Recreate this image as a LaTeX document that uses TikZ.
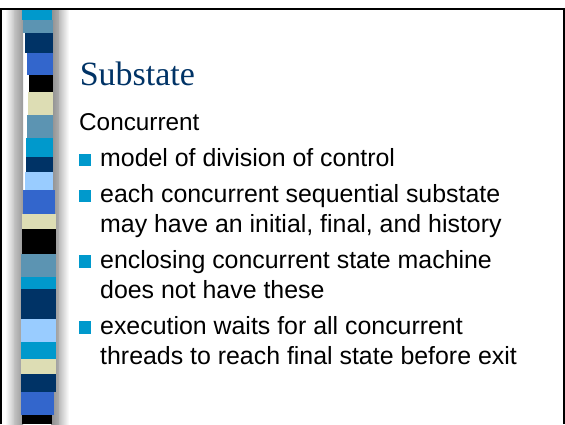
\documentclass[tikz,border=0pt]{standalone}
\usepackage{fontspec}
\setmainfont{Liberation Sans}
\newfontfamily\headfont{Liberation Serif}

\definecolor{stripcyan}{RGB}{0,153,204}
\definecolor{stripsteel}{RGB}{92,148,178}
\definecolor{stripnavy}{RGB}{0,51,102}
\definecolor{striproyal}{RGB}{51,102,204}
\definecolor{stripsky}{RGB}{153,204,255}
\definecolor{stripsand}{RGB}{221,221,180}
\definecolor{headnavy}{RGB}{0,51,102}

\tikzset{
  headline/.style={anchor=base west, inner sep=0pt, text=headnavy,
    font=\headfont\fontsize{34}{40}\selectfont},
  leadline/.style={anchor=base west, inner sep=0pt,
    font=\fontsize{24.3}{29}\selectfont},
  itemline/.style={anchor=base west, inner sep=0pt,
    font=\fontsize{24.9}{29.5}\selectfont},
  bulletbox/.style={anchor=south west, inner sep=0pt, fill=stripcyan,
    minimum width=12.5pt, minimum height=12.5pt},
}

\begin{document}
\begin{tikzpicture}[x=1pt,y=-1pt]
\useasboundingbox (0,0) rectangle (565,424);
\fill[white] (0,0) rectangle (565,424);

% grey bevel either side of the decorative strip
\shade[left color=white, right color=black!22] (5,10) rectangle (14,424);
\shade[left color=black!24, right color=black!40] (14,10) rectangle (23,424);
\shade[left color=black!44, right color=black!32] (51,10) rectangle (59,424);
\shade[left color=black!26, right color=white] (59,10) rectangle (69,424);

% coloured blocks of the strip: top, bottom, left edge, right edge, colour
\foreach \ya/\yb/\xa/\xb/\c in {
  10/20/22/52/stripcyan, 20/33/23/53/stripsteel, 33/53/25/53/stripnavy,
  53/75/27/53/striproyal, 75/92/29/53/black, 92/115/28/53/stripsand,
  115/138/27/53/stripsteel, 138/157/26/53/stripcyan, 157/172/26/53/stripnavy,
  172/190/25/53/stripsky, 190/214/23/55/striproyal, 214/229/22/56/stripsand,
  229/254/22/56/black, 254/277/21/56/stripsteel, 277/289/21/56/stripcyan,
  289/319/21/56/stripnavy, 319/342/21/56/stripsky, 342/359/21/56/stripcyan,
  359/374/21/56/stripsand, 374/392/21/56/stripnavy, 392/415/21/54/striproyal,
  415/424/22/52/black}
  \fill[\c] (\xa,\ya) rectangle (\xb,\yb);

% slide frame
\draw[line width=2pt] (1,424) -- (1,9.2) -- (564,9.2) -- (564,424);

% heading
\node[headline] (title) at (79.6,85) {Substate};
\node[leadline] (lead) at (79,130) {Concurrent};

% bullet items
\node[bulletbox] (b1) at (78.5,166.5) {};
\node[itemline] (t1) at (100,166.5) {model of division of control};

\node[bulletbox] (b2) at (78.5,202.5) {};
\node[itemline] (t2a) at (100,202.5) {each concurrent sequential substate};
\node[itemline] (t2b) at (100,232) {may have an initial, final, and history};

\node[bulletbox] (b3) at (78.5,268) {};
\node[itemline] (t3a) at (100,268) {enclosing concurrent state machine};
\node[itemline] (t3b) at (100,298) {does not have these};

\node[bulletbox] (b4) at (78.5,334) {};
\node[itemline] (t4a) at (100,334) {execution waits for all concurrent};
\node[itemline] (t4b) at (100,364) {threads to reach final state before exit};
\end{tikzpicture}
\end{document}
